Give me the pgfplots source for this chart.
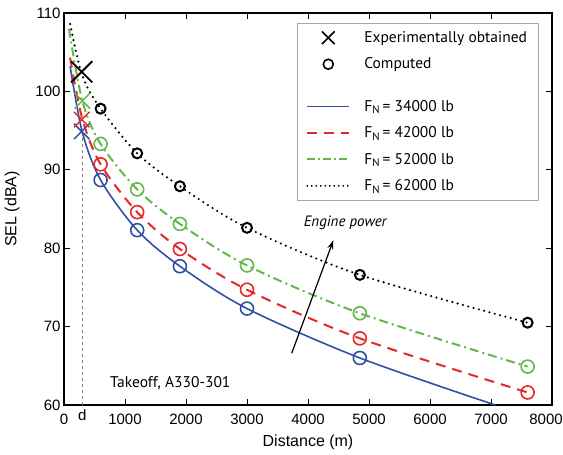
\documentclass[border=0pt]{standalone}
\usepackage{fontspec}
\setmainfont{Liberation Sans}
\newfontfamily\myriad{PT Sans}
\usepackage{pgfplots}
\pgfplotsset{compat=1.18}
\usetikzlibrary{arrows.meta}
\definecolor{cblue}{RGB}{48,80,168}
\definecolor{cred}{RGB}{232,38,40}
\definecolor{cgreen}{RGB}{98,184,72}
\begin{document}
\begin{tikzpicture}
\begin{axis}[
 scale only axis, width=488pt, height=392pt,
 xmin=0, xmax=8000, ymin=60, ymax=110,
 xtick={0,1000,...,8000}, ytick={60,70,...,110},
 xticklabels={0,1000,2000,3000,4000,5000,6000,7000,{\hspace*{-12pt}8000}},
 scaled x ticks=false,
 /pgf/number format/1000 sep={},
 /pgf/number format/assume math mode=true,
 tick align=inside, major tick length=6pt,
 every tick/.style={black, line width=0.9pt},
 axis line style={line width=1.1pt},
 tick label style={font=\fontsize{15}{17}\selectfont},
 xticklabel style={yshift=-5pt},
 label style={font=\fontsize{16}{18}\selectfont},
 xlabel={Distance (m)}, ylabel={SEL (dBA)},
 xlabel shift=4pt, ylabel shift=9pt,
 extra x ticks={300}, extra x tick labels={d},
 extra x tick style={major tick length=0pt, tick label style={yshift=4pt}},
 legend style={at={(0.972,0.974)}, anchor=north east, draw=gray!70, line width=0.6pt,
   font=\myriad\fontsize{15.5}{17}\selectfont, row sep=10pt, inner xsep=9pt, inner ysep=6pt,
   /tikz/every odd column/.append style={column sep=12pt}},
 legend cell align=left,
 legend image code/.code={\draw[mark repeat=2,mark phase=2,#1] plot coordinates {(0pt,0pt) (21pt,0pt) (42pt,0pt)};},
]
% legend entries
\addlegendimage{only marks, mark=x, mark size=9pt, black, line width=1.6pt}
\addlegendentry{Experimentally obtained}
\addlegendimage{only marks, mark=o, mark size=5pt, black, line width=1.6pt}
\addlegendentry{Computed}
\addlegendimage{empty legend}\addlegendentry{}
\addlegendimage{cblue, line width=1.4pt}\addlegendentry{F\textsubscript{N}\,= 34000 lb}
\addlegendimage{cred, line width=1.8pt, dash pattern=on 10pt off 7pt}\addlegendentry{F\textsubscript{N}\,= 42000 lb}
\addlegendimage{cgreen, line width=1.8pt, dash pattern=on 8pt off 3pt on 2pt off 3pt}\addlegendentry{F\textsubscript{N}\,= 52000 lb}
\addlegendimage{black, line width=2pt, line cap=round, dash pattern=on 0pt off 4.5pt}\addlegendentry{F\textsubscript{N}\,= 62000 lb}

% reference distance d
\draw[gray, dashed, line width=0.6pt] (axis cs:300,60) -- (axis cs:300,95);

% curves
\addplot[forget plot, cblue, line width=1.6pt, smooth] coordinates {
 (100,103.2) (300,94.8) (600,88.7) (1200,82.3) (1900,77.7) (3000,72.3) (4850,66.0) (7070,60.0)};
\addplot[forget plot, cred, line width=2pt, smooth, dash pattern=on 10pt off 7pt] coordinates {
 (100,104.3) (300,96.5) (600,90.7) (1200,84.6) (1900,79.9) (3000,74.7) (4850,68.5) (7600,61.6)};
\addplot[forget plot, cgreen, line width=2pt, smooth, dash pattern=on 9pt off 4pt on 2pt off 4pt] coordinates {
 (80,108.0) (300,98.8) (600,93.3) (1200,87.5) (1900,83.1) (3000,77.8) (4850,71.7) (7600,64.9)};
\addplot[forget plot, black, line width=2.4pt, smooth, line cap=round, dash pattern=on 0pt off 5.5pt] coordinates {
 (100,108.6) (300,102.0) (600,97.8) (1200,92.1) (1900,87.9) (3000,82.6) (4850,76.6) (7600,70.5)};

% computed points
\addplot[forget plot, only marks, mark=o, mark size=6.5pt, cblue, line width=1.6pt] coordinates {
 (600,88.7) (1200,82.3) (1900,77.7) (3000,72.3) (4850,66.0)};
\addplot[forget plot, only marks, mark=o, mark size=6.5pt, cred, line width=1.6pt] coordinates {
 (600,90.7) (1200,84.6) (1900,79.9) (3000,74.7) (4850,68.5) (7600,61.6)};
\addplot[forget plot, only marks, mark=o, mark size=6.5pt, cgreen, line width=1.6pt] coordinates {
 (600,93.3) (1200,87.5) (1900,83.1) (3000,77.8) (4850,71.7) (7600,64.9)};
\addplot[forget plot, only marks, mark=o, mark size=5pt, black, line width=2pt] coordinates {
 (600,97.8) (1200,92.1) (1900,87.9) (3000,82.6) (4850,76.6) (7600,70.5)};

% experimental points
\addplot[forget plot, only marks, mark=x, mark size=11pt, cblue, line width=1.5pt] coordinates {(290,94.9)};
\addplot[forget plot, only marks, mark=x, mark size=11pt, cred, line width=1.5pt] coordinates {(290,96.4)};
\addplot[forget plot, only marks, mark=x, mark size=11pt, cgreen, line width=1.5pt] coordinates {(300,98.8)};
\addplot[forget plot, only marks, mark=x, mark size=15pt, black, line width=1.8pt] coordinates {(290,102.5)};

% annotations
\draw[black, line width=1.2pt, -{Stealth[length=9pt,width=6pt]}] (axis cs:3733,66.6) -- (axis cs:4415,81.0);
\node[font=\myriad\itshape\fontsize{15}{17}\selectfont] at (axis cs:4610,83.2) {Engine power};
\node[font=\myriad\fontsize{15.5}{17}\selectfont, anchor=west] at (axis cs:700,62.8) {Takeoff, A330-301};
\end{axis}
\pgfresetboundingbox
\path ([shift={(-64pt,-49pt)}]current axis.south west) rectangle ([shift={(11pt,13pt)}]current axis.north east);
\end{tikzpicture}
\end{document}
